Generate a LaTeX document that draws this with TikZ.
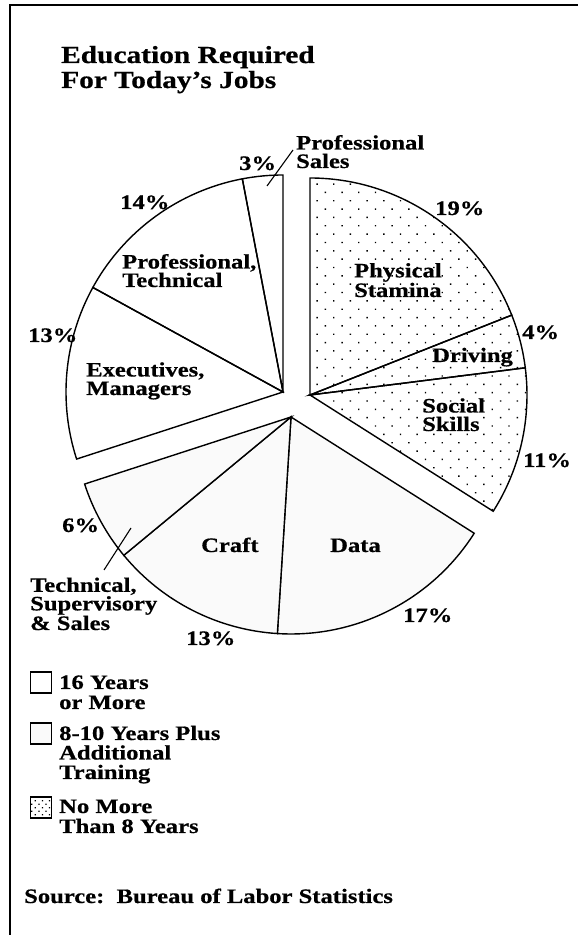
\documentclass[tikz,border=0pt]{standalone}
\usepackage{fontspec}
\setmainfont[FakeStretch=1.2,BoldFeatures={FakeBold=0.6}]{Liberation Serif}
\usepackage{tikz}
\usetikzlibrary{positioning,patterns.meta}

\begin{document}
\begin{tikzpicture}[x=1pt,y=1pt,
lbl/.style={anchor=base west,inner sep=0pt,align=left,
  font=\fontsize{20.5}{18.5}\bfseries\selectfont},
wedge/.style={draw,line width=1.4pt,line join=miter},
stipple/.style={pattern={Dots[distance=11.8pt,angle=45,radius=1pt]}},
legbox/.style={draw,line width=1.6pt,minimum size=21pt,inner sep=0pt}]
\useasboundingbox (0,0) rectangle (578,935);
% frame
\draw[line width=1.3pt] (10,0) -- (10,930) -- (578,930);
% 16 years or more
\begin{scope}[shift={(283,543)}]
\foreach \a/\b in {90/100.8,100.8/151.2,151.2/198}
  \draw[wedge] (0,0) -- (\a:217) arc[start angle=\a,end angle=\b,radius=217] -- cycle;
\end{scope}
% no more than 8 years
\begin{scope}[shift={(310,540)}]
\foreach \a/\b in {21.6/90,7.2/21.6,-32.4/7.2}
  \draw[wedge,stipple] (0,0) -- (\a:217) arc[start angle=\a,end angle=\b,radius=217] -- cycle;
\end{scope}
% 8-10 years plus training
\begin{scope}[shift={(291,518)}]
\foreach \a/\b in {-93.6/-32.4,-140.4/-93.6,-162/-140.4}
  \draw[wedge,fill=black!2] (0,0) -- (\a:217) arc[start angle=\a,end angle=\b,radius=217] -- cycle;
\end{scope}
% title (base = last line)
\node[lbl,font=\fontsize{24.5}{25}\bfseries\selectfont] (title) at (61,847)
  {Education Required\\For Today's Jobs};
% slice labels
\node[lbl] (sales) at (296,767) {Professional\\Sales};
\node[lbl] (p3) at (239,765) {3\%};
\node[lbl] (p14) at (120,726) {14\%};
\node[lbl] (p19) at (435,720) {19\%};
\node[lbl] (proftech) at (122,648) {Professional,\\Technical};
\node[lbl] (physical) at (354,638) {Physical\\Stamina};
\node[lbl] (p13a) at (28,593) {13\%};
\node[lbl] (p4) at (522,596) {4\%};
\node[lbl] (driving) at (432,573) {Driving};
\node[lbl] (exec) at (86,540) {Executives,\\Managers};
\node[lbl] (social) at (422,504) {Social\\Skills};
\node[lbl] (p11) at (523,468) {11\%};
\node[lbl] (p6) at (62,403) {6\%};
\node[lbl] (craft) at (201,383) {Craft};
\node[lbl] (data) at (330,383) {Data};
\node[lbl] (techsup) at (30,305) {Technical,\\Supervisory\\\& Sales};
\node[lbl] (p17) at (403,313) {17\%};
\node[lbl] (p13b) at (186,290) {13\%};
% leader lines
\coordinate (salesin) at (267,749);
\coordinate (salesout) at (293,785);
\coordinate (techin) at (131,407);
\coordinate (techout) at (104,365);
\draw[line width=1.1pt] (salesout) -- (salesin);
\draw[line width=1.1pt] (techin) -- (techout);
% legend
\node[legbox] (box1) at (41,252.5) {};
\node[lbl,font=\fontsize{20.5}{20}\bfseries\selectfont] (leg1) at (59,226) {16 Years\\or More};
\node[legbox,fill=black!2] (box2) at (41,201.5) {};
\node[lbl,font=\fontsize{20.5}{19.5}\bfseries\selectfont] (leg2) at (59,156) {8-10 Years Plus\\Additional\\Training};
\node[legbox,pattern={Dots[distance=5pt,angle=45,radius=0.9pt]}] (box3) at (41,127.5) {};
\node[lbl,font=\fontsize{20.5}{20}\bfseries\selectfont] (leg3) at (59,102) {No More\\Than 8 Years};
\node[lbl] (source) at (24,32) {Source:\ \ Bureau of Labor Statistics};
\end{tikzpicture}
\end{document}
